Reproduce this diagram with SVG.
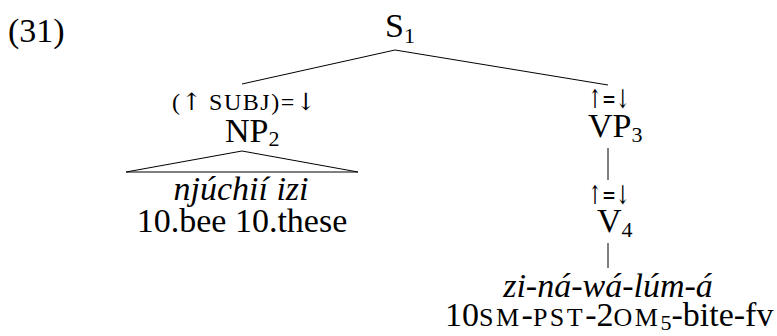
<svg xmlns="http://www.w3.org/2000/svg" width="777" height="336" viewBox="0 0 777 336">
  <style>
    text { font-family: "Liberation Serif", "Times New Roman", serif; fill: #000; }
    .big { font-size: 34px; }
    .it { font-style: italic; }
    .sub { font-size: 22px; }
    .ann { font-size: 24px; letter-spacing: 1.5px; }
    .arr { font-family: "DejaVu Serif", "DejaVu Sans", serif; font-size: 24px; letter-spacing: 0; }
    .eq { font-family: "DejaVu Serif", "DejaVu Sans", serif; font-size: 26px; }
    .sc { font-size: 26px; letter-spacing: 2.5px; }
    .edge { stroke: #000; stroke-width: 1; fill: none; }
  </style>
  <rect width="777" height="336" fill="#fff"/>

  <text class="big" x="8" y="42">(31)</text>

  <g id="connectors">
    <line class="edge" x1="395" y1="50" x2="242" y2="84"/>
    <line class="edge" x1="395" y1="50" x2="608" y2="85"/>
    <line class="edge" x1="608" y1="148" x2="608" y2="180"/>
    <line class="edge" x1="608" y1="243" x2="608" y2="268"/>
  </g>

  <g id="S1">
    <text class="big" x="385" y="37">S<tspan class="sub" dy="6">1</tspan></text>
  </g>

  <g id="NP2">
    <text class="ann" x="172" y="110">(<tspan class="arr">↑</tspan> SUBJ)=<tspan class="arr">↓</tspan></text>
    <text class="big" x="225" y="142">NP<tspan class="sub" dy="4">2</tspan></text>
    <polygon class="edge" points="242,151 126,172 358,172"/>
    <text class="big it" x="241" y="200" text-anchor="middle">njúchií izi</text>
    <text class="big" x="242" y="232" text-anchor="middle">10.bee 10.these</text>
  </g>

  <g id="VP3">
    <text class="eq" transform="translate(588,108) scale(0.64,1)">↑=↓</text>
    <text class="big" x="588" y="137">VP<tspan class="sub" dy="5">3</tspan></text>
  </g>

  <g id="V4">
    <text class="eq" transform="translate(588,204) scale(0.64,1)">↑=↓</text>
    <text class="big" x="597" y="232">V<tspan class="sub" dy="5">4</tspan></text>
  </g>

  <g id="verb">
    <text class="big it" x="608" y="297" text-anchor="middle">zi-ná-wá-lúm-á</text>
    <text class="big" x="445" y="326">10<tspan class="sc">SM</tspan>-<tspan class="sc">PST</tspan>-2<tspan class="sc">OM</tspan><tspan class="sub" dy="4">5</tspan><tspan dy="-4">-bite-fv</tspan></text>
  </g>
</svg>
